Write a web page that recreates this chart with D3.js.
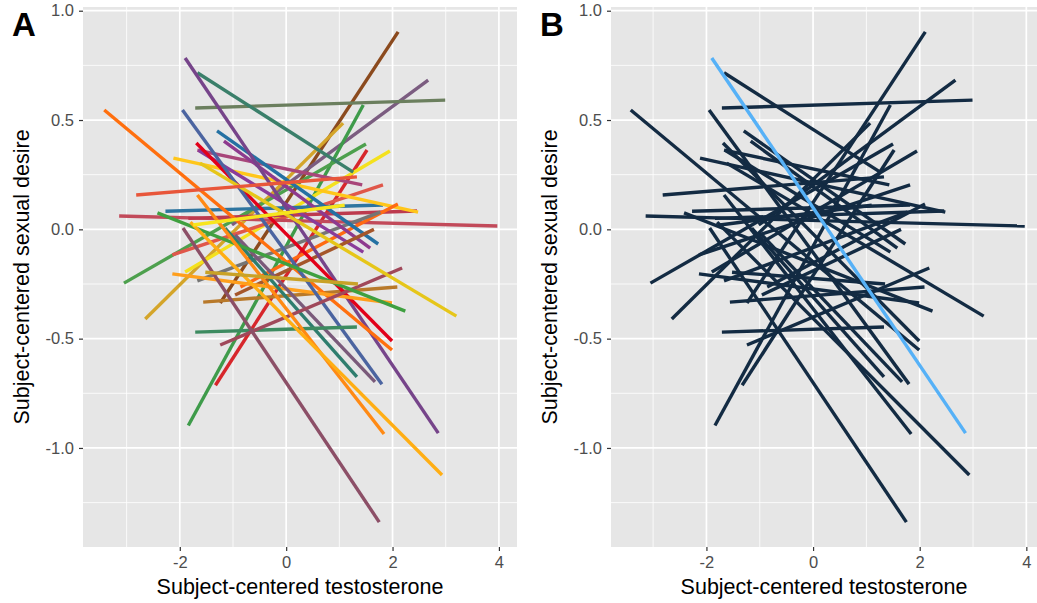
<!DOCTYPE html>
<html>
<head>
<meta charset="utf-8">
<script src="https://cdn.jsdelivr.net/npm/d3@7"></script>
<style>
  body { margin: 0; background: #ffffff; }
  svg { font-family: "Liberation Sans", Arial, sans-serif; }
</style>
</head>
<body>
<svg id="chart"></svg>
<script>
// subject-level fitted lines: start and end of each segment
let x1 = [-1.24, -1.02, -1.71, -1.84, -2.65, -3.05, -1.33, -1.90, -1.67, -1.67,
          -2.14, -3.14, -2.27, -1.84, -2.12, -0.86, -1.67, -1.30, -1.17, -1.65,
          -1.56, -0.96, -1.90, -1.69, -3.42, -2.14, -1.95, -0.96, -1.15, -1.71,
          -1.24, -1.94, -2.42, -1.62, -1.67, -1.80, -2.82, -1.75, -1.52];
let y1 = [-0.337, 0.020, 0.555, -0.897, -0.410, -0.246, -0.713, -0.195, 0.716, 0.362,
          -0.117, 0.061, 0.083, 0.050, 0.326, -0.264, -0.236, 0.450, 0.404, 0.362,
          -0.333, -0.300, 0.784, 0.395, 0.546, -0.204, 0.546, -0.026, 0.006, -0.470,
          -0.529, 0.006, 0.075, 0.303, 0.157, 0.033, 0.157, 0.020, -0.196];
let x2 = [2.105, 2.67, 2.99, 1.45, 1.07, 1.50, 1.52, 1.95, 1.26, 1.43,
          1.82, 3.97, 1.82, 2.46, 2.48, 2.10, 1.77, 1.73, 1.58, 1.45,
          2.09, 1.65, 2.86, 1.99, 1.99, 1.99, 1.80, 1.67, 1.33, 1.33,
          2.18, 1.75, 2.24, 3.20, 1.84, 2.93, 1.33, 1.10, 1.35];
let y2 = [0.903, 0.683, 0.591, 0.569, 0.486, 0.390, 0.363, 0.358, 0.262, 0.203,
          0.203, 0.015, 0.111, 0.084, 0.079, 0.116, 0.079, -0.067, -0.086, -0.104,
          -0.264, 0.000, -0.932, -0.511, -0.552, -0.337, -0.708, -0.698, -0.675, -0.447,
          -0.177, -1.339, -0.374, -0.397, -0.936, -1.124, 0.240, 0.110, -0.250];

let subjectColours = ["#8B4A1E", "#7B5C80", "#6B7F5E", "#3E9B4A", "#D4A52A", "#4DA04D", "#D7262B", "#F4E11D", "#3A7F6A", "#A8467A",
                      "#E0574A", "#C24A5A", "#2E75A0", "#BD3A4E", "#FFC61A", "#FF6A13", "#757575", "#2471A3", "#8E3A8E", "#8A3B9A",
                      "#B8792A", "#A5562A", "#76448A", "#E2001A", "#FF6F0E", "#FF9F1C", "#4B64A0", "#7A5A7A", "#2E7D6E", "#3D8B60",
                      "#A0485A", "#8C4F67", "#3FA040", "#E6C619", "#FF8A14", "#FFAE14", "#E8563A", "#F7E51D", "#C9A227"];

let highlight = 22; // the subject drawn in light blue in panel B

let xTicks = [-2, 0, 2, 4];
let yTicks = [-1.0, -0.5, 0.0, 0.5, 1.0];
let xMinor = [-3, -1, 1, 3];
let yMinor = [-1.25, -0.75, -0.25, 0.25, 0.75];

let width = 1037;
let height = 603;

let svg = d3.select("#chart").attr("width", width).attr("height", height);

let lines = x1.map((d, i) => ({x1: x1[i], y1: y1[i], x2: x2[i], y2: y2[i], i: i}));

// ggplot prints a plain hyphen for negatives
let fmtX = d => d3.format("d")(d).replace("\u2212", "-");
let fmtY = d => d3.format(".1f")(d).replace("\u2212", "-");

let drawPanel = (cfg) => {
    let xScale = d3.scaleLinear().domain(cfg.xDomain).range([cfg.left, cfg.right]);
    let yScale = d3.scaleLinear().domain([-1.453, 1.017]).range([547, 7]);

    let g = svg.append("g");

    g.append("rect")
     .attr("x", cfg.left).attr("y", 7)
     .attr("width", cfg.right - cfg.left).attr("height", 540)
     .attr("fill", "#E6E6E6");

    // minor grid
    g.selectAll(".xminor").data(xMinor).enter().append("line")
     .attr("x1", d => xScale(d)).attr("x2", d => xScale(d))
     .attr("y1", 7).attr("y2", 547)
     .attr("stroke", "#ffffff").attr("stroke-width", 0.8);
    g.selectAll(".yminor").data(yMinor).enter().append("line")
     .attr("x1", cfg.left).attr("x2", cfg.right)
     .attr("y1", d => yScale(d)).attr("y2", d => yScale(d))
     .attr("stroke", "#ffffff").attr("stroke-width", 0.8);
    // major grid
    g.selectAll(".xmajor").data(xTicks).enter().append("line")
     .attr("x1", d => xScale(d)).attr("x2", d => xScale(d))
     .attr("y1", 7).attr("y2", 547)
     .attr("stroke", "#ffffff").attr("stroke-width", 1.7);
    g.selectAll(".ymajor").data(yTicks).enter().append("line")
     .attr("x1", cfg.left).attr("x2", cfg.right)
     .attr("y1", d => yScale(d)).attr("y2", d => yScale(d))
     .attr("stroke", "#ffffff").attr("stroke-width", 1.7);

    let ordered = cfg.highlight ? lines.filter(d => d.i !== highlight).concat([lines[highlight]]) : lines;

    g.selectAll(".seg").data(ordered).enter().append("line")
     .attr("x1", d => xScale(d.x1)).attr("y1", d => yScale(d.y1))
     .attr("x2", d => xScale(d.x2)).attr("y2", d => yScale(d.y2))
     .attr("stroke", d => cfg.highlight ? (d.i === highlight ? "#56B1F7" : "#132B43") : subjectColours[d.i])
     .attr("stroke-width", 3.4);

    let xAxis = d3.axisBottom(xScale).tickValues(xTicks).tickSize(4).tickPadding(5).tickFormat(fmtX);
    let yAxis = d3.axisLeft(yScale).tickValues(yTicks).tickSize(4).tickPadding(5).tickFormat(fmtY);

    let gx = g.append("g").attr("transform", "translate(0,547)").call(xAxis);
    let gy = g.append("g").attr("transform", "translate(" + cfg.left + ",0)").call(yAxis);
    [gx, gy].forEach(a => {
        a.select(".domain").remove();
        a.selectAll(".tick line").attr("stroke", "#333333").attr("stroke-width", 1.2);
        a.selectAll(".tick text").attr("fill", "#4D4D4D").style("font-size", "16.5px")
         .style("font-family", "Liberation Sans, Arial, sans-serif");
    });

    g.append("text")
     .attr("x", (cfg.left + cfg.right) / 2).attr("y", 594)
     .attr("text-anchor", "middle")
     .style("font-size", "21.5px").attr("fill", "#000")
     .text("Subject-centered testosterone");

    g.append("text")
     .attr("transform", "translate(" + (cfg.left - 54) + ",277) rotate(-90)")
     .attr("text-anchor", "middle")
     .style("font-size", "21.5px").attr("fill", "#000")
     .text("Subject-centered sexual desire");

    g.append("text")
     .attr("x", cfg.left - 71).attr("y", 36)
     .style("font-size", "33px").style("font-weight", "bold").attr("fill", "#000")
     .text(cfg.label);
};

drawPanel({left: 83, right: 517, xDomain: [-3.82, 4.34], label: "A", highlight: false});
drawPanel({left: 611, right: 1037, xDomain: [-3.79, 4.20], label: "B", highlight: true});
</script>
</body>
</html>
